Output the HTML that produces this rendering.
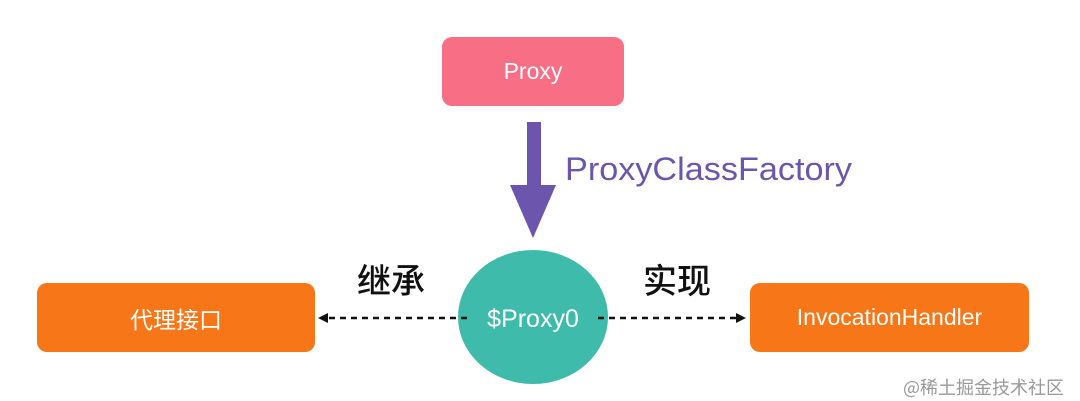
<!DOCTYPE html>
<html><head><meta charset="utf-8"><style>
body{margin:0;width:1080px;height:401px;background:#fff;position:relative;overflow:hidden;font-family:"Liberation Sans","Noto Sans CJK SC",sans-serif}
.b{position:absolute;border-radius:10px;color:#fff;display:flex;align-items:center;justify-content:center;font-size:23px}
.t{position:absolute;font-size:34px;color:#111;font-family:"Noto Sans CJK SC",sans-serif;font-weight:500;line-height:1}
</style></head><body>
<div class="b" style="left:442px;top:37px;width:182px;height:69px;background:#f76e85">Proxy</div>
<div class="b" style="left:37px;top:283px;width:278px;height:69px;background:#f77718;font-family:'Noto Sans CJK SC',sans-serif">代理接口</div>
<div class="b" style="left:750px;top:283px;width:279px;height:69px;background:#f77718">InvocationHandler</div>
<svg style="position:absolute;left:0;top:0" width="1080" height="401">
<rect x="527" y="122" width="14" height="64" fill="#6c55ad"/>
<polygon points="510,185 556,185 533,238" fill="#6c55ad"/>
<ellipse cx="533" cy="317" rx="75" ry="67" fill="#3ebbab"/>
<line x1="467" y1="318" x2="326" y2="318" stroke="#111" stroke-width="2.5" stroke-dasharray="6,5"/>
<polygon points="318,318 328,313 328,323" fill="#111"/>
<line x1="598" y1="318" x2="737" y2="318" stroke="#111" stroke-width="2.5" stroke-dasharray="6,5"/>
<polygon points="746,318 736,313 736,323" fill="#111"/>
<text x="533" y="327" fill="#fff" font-size="25" text-anchor="middle" font-family="Liberation Sans">$Proxy0</text>
<text x="565" y="180" fill="#6c55ad" font-size="32" textLength="287" lengthAdjust="spacingAndGlyphs" font-family="Liberation Sans">ProxyClassFactory</text>
</svg>
<div class="t" style="left:357px;top:262px">继承</div>
<div class="t" style="left:643px;top:262px">实现</div>
<div style="position:absolute;left:903px;top:374px;font-size:18px;color:#999;font-family:'Noto Sans CJK SC',sans-serif">@稀土掘金技术社区</div>
</body></html>
